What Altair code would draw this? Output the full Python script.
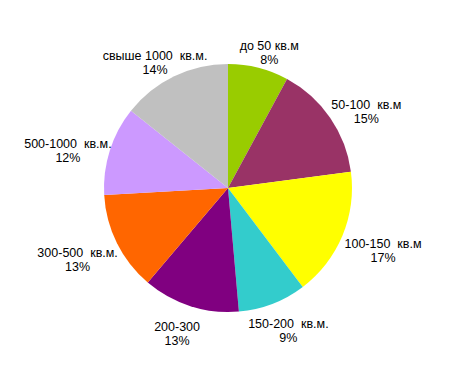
import altair as alt
import pandas as pd

categories = ["до 50 кв.м", "50-100\u00a0 кв.м", "100-150\u00a0 кв.м", "150-200\u00a0 кв.м.",
              "200-300", "300-500\u00a0 кв.м.", "500-1000\u00a0 кв.м.", "свыше 1000\u00a0 кв.м."]
shares = [7.9, 15.0, 16.8, 8.9, 12.6, 12.9, 11.6, 14.3]
colors = ["#99CC00", "#993366", "#FFFF00", "#33CCCC", "#800080", "#FF6600", "#CC99FF", "#C0C0C0"]

df = pd.DataFrame({
    "cat": categories,
    "share": shares,
    "idx": list(range(len(categories))),
    "label": [f"{c}\n{round(s)}%" for c, s in zip(categories, shares)],
})

CX, CY = 220, 180

pie = alt.Chart(df).mark_arc(outerRadius=124).encode(
    theta=alt.Theta("share:Q", stack=True),
    order=alt.Order("idx:Q"),
    color=alt.Color("cat:N", scale=alt.Scale(domain=categories, range=colors), legend=None),
    x=alt.value(CX), y=alt.value(CY),
)

labels = alt.Chart(df).transform_joinaggregate(
    total="sum(share)"
).transform_window(
    cum="sum(share)", sort=[alt.SortField("idx")], frame=[None, 0]
).transform_calculate(
    mid="(datum.cum - datum.share / 2) / datum.total * 2 * PI"
).transform_calculate(
    lx=f"{CX} + 168 * sin(datum.mid)",
    ly=f"{CY} - 146 * cos(datum.mid)",
).mark_text(lineBreak="\n", font="Liberation Sans", fontSize=12.5, lineHeight=14,
            color="black", align="center", baseline="middle").encode(
    x=alt.X("lx:Q", scale=None, axis=None),
    y=alt.Y("ly:Q", scale=None, axis=None),
    text="label:N",
)

chart = (pie + labels).properties(
    width=449, height=350, autosize=alt.AutoSizeParams(type="none"), padding=0
).configure_view(stroke=None)

chart.save("out.html", embed_options={"renderer": "svg", "actions": False})
